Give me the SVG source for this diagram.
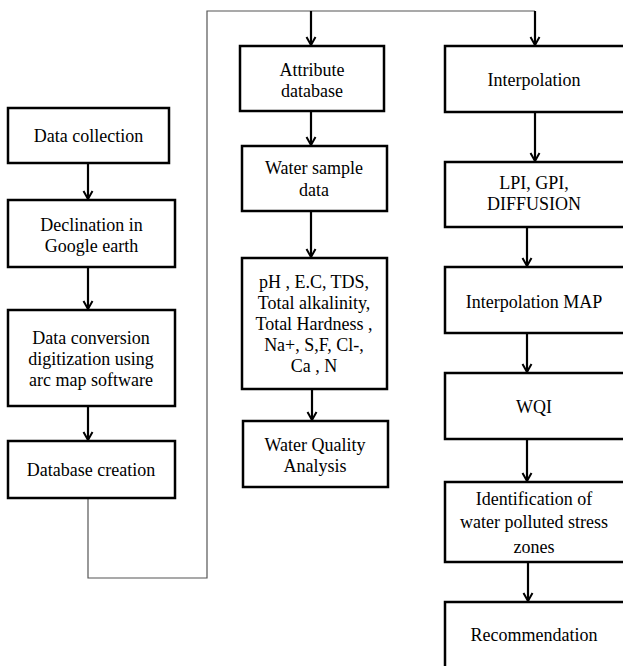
<svg xmlns="http://www.w3.org/2000/svg" width="623" height="666" viewBox="0 0 623 666">
<defs>
<style>
.box{fill:#fff;stroke:#000;stroke-width:2.5}
.t{font-family:"Liberation Serif","Times New Roman",serif;font-size:18px;fill:#000;text-anchor:middle}
.arr{stroke:#000;stroke-width:2.2;fill:none}
.thin{stroke:#555;stroke-width:1.2;fill:none}
</style>
<marker id="ah" markerWidth="12" markerHeight="12" refX="10" refY="6" orient="auto" markerUnits="userSpaceOnUse" viewBox="0 0 12 12">
<path d="M2,1.5 L10,6 L2,10.5" fill="none" stroke="#000" stroke-width="2"/>
</marker>
</defs>
<rect width="623" height="666" fill="#fff"/>
<g id="connectors">
<polyline class="thin" points="88,498 88,578 207,578 207,11 535,11"/>
<line class="arr" x1="88" y1="163" x2="88" y2="199" marker-end="url(#ah)"/>
<line class="arr" x1="88" y1="267" x2="88" y2="309" marker-end="url(#ah)"/>
<line class="arr" x1="88" y1="406" x2="88" y2="440" marker-end="url(#ah)"/>
<line class="arr" x1="311" y1="11" x2="311" y2="45" marker-end="url(#ah)"/>
<line class="arr" x1="311" y1="111" x2="311" y2="145" marker-end="url(#ah)"/>
<line class="arr" x1="311" y1="211" x2="311" y2="257" marker-end="url(#ah)"/>
<line class="arr" x1="312" y1="389" x2="312" y2="420" marker-end="url(#ah)"/>
<line class="arr" x1="535" y1="11" x2="535" y2="45" marker-end="url(#ah)"/>
<line class="arr" x1="535" y1="112" x2="535" y2="161" marker-end="url(#ah)"/>
<line class="arr" x1="527" y1="227" x2="527" y2="266" marker-end="url(#ah)"/>
<line class="arr" x1="527" y1="333" x2="527" y2="372" marker-end="url(#ah)"/>
<line class="arr" x1="527" y1="439" x2="527" y2="481" marker-end="url(#ah)"/>
<line class="arr" x1="528" y1="562" x2="528" y2="601" marker-end="url(#ah)"/>
</g>
<g id="n1"><rect class="box" x="8" y="108" width="161" height="55"/><text class="t" x="88.5" y="142">Data collection</text></g>
<g id="n2"><rect class="box" x="8" y="200" width="167" height="67"/><text class="t" x="91.5" y="231">Declination in</text><text class="t" x="91.5" y="252">Google earth</text></g>
<g id="n3"><rect class="box" x="8" y="310" width="167" height="96"/><text class="t" x="91" y="344">Data conversion</text><text class="t" x="91" y="365">digitization using</text><text class="t" x="91" y="386">arc map software</text></g>
<g id="n4"><rect class="box" x="8" y="441" width="167" height="57"/><text class="t" x="91" y="476">Database creation</text></g>
<g id="n5"><rect class="box" x="240" y="46" width="144" height="65"/><text class="t" x="312" y="76">Attribute</text><text class="t" x="312" y="97">database</text></g>
<g id="n6"><rect class="box" x="242" y="146" width="145" height="65"/><text class="t" x="314" y="174">Water sample</text><text class="t" x="314" y="196">data</text></g>
<g id="n7"><rect class="box" x="242" y="258" width="145" height="131"/><text class="t" x="314" y="288">pH , E.C, TDS,</text><text class="t" x="314" y="309">Total alkalinity,</text><text class="t" x="314" y="330">Total Hardness ,</text><text class="t" x="314" y="351">Na+, S,F, Cl-,</text><text class="t" x="314" y="372">Ca , N</text></g>
<g id="n8"><rect class="box" x="243" y="421" width="145" height="66"/><text class="t" x="315" y="451">Water Quality</text><text class="t" x="315" y="472">Analysis</text></g>
<g id="n9"><rect class="box" x="445" y="46" width="200" height="66"/><text class="t" x="534" y="86">Interpolation</text></g>
<g id="n10"><rect class="box" x="445" y="162" width="200" height="65"/><text class="t" x="534" y="189">LPI, GPI,</text><text class="t" x="534" y="210">DIFFUSION</text></g>
<g id="n11"><rect class="box" x="445" y="267" width="200" height="66"/><text class="t" x="534" y="308">Interpolation MAP</text></g>
<g id="n12"><rect class="box" x="445" y="373" width="200" height="66"/><text class="t" x="534" y="413">WQI</text></g>
<g id="n13"><rect class="box" x="445" y="482" width="200" height="80"/><text class="t" x="534" y="505">Identification of</text><text class="t" x="534" y="528">water polluted stress</text><text class="t" x="534" y="553">zones</text></g>
<g id="n14"><rect class="box" x="445" y="602" width="200" height="80"/><text class="t" x="534" y="641">Recommendation</text></g>
</svg>
